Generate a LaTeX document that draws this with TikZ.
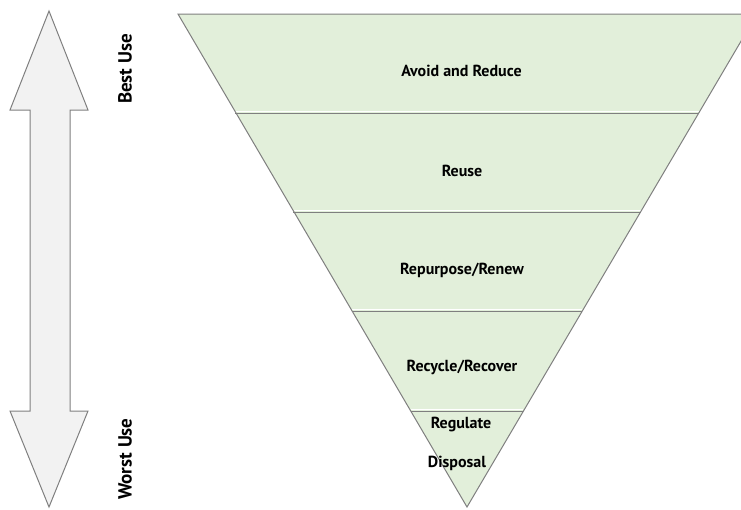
\documentclass[tikz,border=0pt]{standalone}
\usepackage{fontspec}
\setmainfont{PT Sans}
\definecolor{bandfill}{HTML}{E2EFDA}
\definecolor{edge}{HTML}{7F7F7F}
\definecolor{arrfill}{HTML}{F2F2F2}
\begin{document}
\begin{tikzpicture}[x=1pt,y=-1pt,
  lbl/.style={font=\bfseries\fontsize{16}{18}\selectfont, inner sep=0pt},
  side/.style={font=\bfseries\fontsize{19}{21}\selectfont, rotate=90, inner sep=0pt}]
\useasboundingbox (0,0) rectangle (741,509);
\begin{scope}
\clip (0,0) rectangle (741,509);
% triangle
\coordinate (tl) at (178,14);
\coordinate (tr) at (757,14);
\coordinate (ap) at (467,507);
\fill[bandfill] (tl) -- (tr) -- (ap) -- cycle;
% band separators
\foreach \yy in {113,212,311,411}{
  \pgfmathsetmacro{\hw}{0.58824*(507-\yy)}
  \draw[white, line width=0.8pt] (467-\hw,\yy-1.2) -- (467+\hw,\yy-1.2);
  \draw[edge, line width=1pt] (467-\hw,\yy) -- (467+\hw,\yy);
}
\draw[edge, line width=1pt, line join=miter] (tl) -- (tr) -- (ap) -- cycle;
\end{scope}
% labels
\node[lbl] (n1) at (461.5,71) {Avoid and Reduce};
\node[lbl] (n2) at (462,171) {Reuse};
\node[lbl] (n3) at (462,270) {Repurpose/Renew};
\node[lbl] (n4) at (462,367) {Recycle/Recover};
\node[lbl] (n5) at (461,425) {Regulate};
\node[lbl] (n6) at (457,463) {Disposal};
% double arrow
\draw[edge, fill=arrfill, line width=1pt, line join=miter]
  (49,11) -- (88,110) -- (70,110) -- (70,411) -- (88,411) -- (49,507)
  -- (10,411) -- (30,411) -- (30,110) -- (10,110) -- cycle;
\node[side] (best) at (125,69) {Best Use};
\node[side] (worst) at (125,459) {Worst Use};
\end{tikzpicture}
\end{document}
